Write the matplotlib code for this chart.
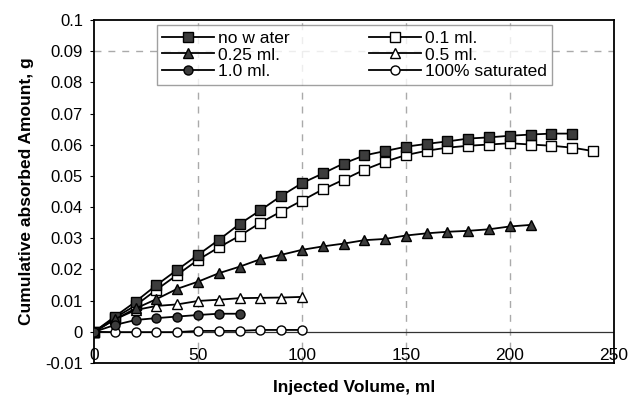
import matplotlib
matplotlib.use("Agg")
import matplotlib.pyplot as plt

plt.rcParams['font.family'] = ['Liberation Sans', 'DejaVu Sans']

x_no_water = [0, 10, 20, 30, 40, 50, 60, 70, 80, 90, 100, 110, 120, 130, 140, 150, 160, 170, 180, 190, 200, 210, 220, 230]
y_no_water = [0, 0.0049, 0.0097, 0.015, 0.0199, 0.0247, 0.0295, 0.0346, 0.039, 0.0436, 0.0477, 0.0508, 0.054, 0.0566,
              0.058, 0.0594, 0.0603, 0.0611, 0.062, 0.0624, 0.0629, 0.0633, 0.0636, 0.0636]

x_01 = [0, 10, 20, 30, 40, 50, 60, 70, 80, 90, 100, 110, 120, 130, 140, 150, 160, 170, 180, 190, 200, 210, 220, 230, 240]
y_01 = [0, 0.0045, 0.0085, 0.0135, 0.0183, 0.0231, 0.0271, 0.0308, 0.035, 0.0386, 0.0421, 0.0457, 0.0488, 0.052,
        0.0546, 0.0567, 0.0581, 0.0591, 0.0597, 0.0601, 0.0605, 0.0601, 0.0597, 0.0591, 0.058]

x_025 = [0, 10, 20, 30, 40, 50, 60, 70, 80, 90, 100, 110, 120, 130, 140, 150, 160, 170, 180, 190, 200, 210]
y_025 = [0, 0.004, 0.0075, 0.0105, 0.0138, 0.0161, 0.0188, 0.0209, 0.0233, 0.0247, 0.0263, 0.0274, 0.0283, 0.0294,
         0.0298, 0.0309, 0.0316, 0.0321, 0.0324, 0.0329, 0.0338, 0.0343]

x_05 = [0, 10, 20, 30, 40, 50, 60, 70, 80, 90, 100]
y_05 = [0, 0.004, 0.007, 0.0083, 0.0088, 0.0099, 0.0103, 0.0108, 0.0109, 0.011, 0.0112]

x_10 = [0, 10, 20, 30, 40, 50, 60, 70]
y_10 = [0, 0.0022, 0.0038, 0.0044, 0.0049, 0.0054, 0.0058, 0.0058]

x_sat = [0, 10, 20, 30, 40, 50, 60, 70, 80, 90, 100]
y_sat = [0, -0.0001, -0.0001, -0.0001, -0.0001, 0.0003, 0.0003, 0.0003, 0.0006, 0.0006, 0.0006]

labels = ["no w ater", "0.1 ml.", "0.25 ml.", "0.5 ml.", "1.0 ml.", "100% saturated"]

x_ticks = [0, 50, 100, 150, 200, 250]
y_ticks = [-0.01, 0, 0.01, 0.02, 0.03, 0.04, 0.05, 0.06, 0.07, 0.08, 0.09, 0.1]
y_tick_labels = ["-0.01", "0", "0.01", "0.02", "0.03", "0.04", "0.05", "0.06", "0.07", "0.08", "0.09", "0.1"]

fig = plt.figure(figsize=(6.36, 4.03), dpi=100)
ax = fig.add_axes([0.148, 0.0993, 0.817, 0.8507])

dark = "#3c3c3c"
lw = 1.3
ms = 6.5
h = {}
h['nw'], = ax.plot(x_no_water, y_no_water, '-s', color='black', lw=lw, ms=ms, mfc=dark, mec='black', mew=1.0, zorder=5)
h['01'], = ax.plot(x_01, y_01, '-s', color='black', lw=lw, ms=ms, mfc='white', mec='black', mew=1.0, zorder=4)
h['025'], = ax.plot(x_025, y_025, '-^', color='black', lw=lw, ms=ms + 1, mfc=dark, mec='black', mew=1.0, zorder=5)
h['05'], = ax.plot(x_05, y_05, '-^', color='black', lw=lw, ms=ms + 1, mfc='white', mec='black', mew=1.0, zorder=4)
h['10'], = ax.plot(x_10, y_10, '-o', color='black', lw=lw, ms=ms, mfc=dark, mec='black', mew=1.0, zorder=5)
h['sat'], = ax.plot(x_sat, y_sat, '-o', color='black', lw=lw, ms=ms, mfc='white', mec='black', mew=1.0, zorder=4)

ax.set_xlim(0, 250)
ax.set_ylim(-0.01, 0.1)

ax.axhline(0, color='#333333', lw=0.9, zorder=2)
for xv in x_ticks[1:-1]:
    ax.axvline(xv, color='#aaaaaa', lw=1.0, ls=(0, (5, 5)), zorder=1)
ax.axhline(0.09, color='#aaaaaa', lw=1.0, ls=(0, (5, 5)), zorder=1)

ax.set_xticks(x_ticks)
ax.set_xticklabels([str(v) for v in x_ticks], fontsize=12.5)
ax.tick_params(axis='x', direction='in', length=0, pad=-11)
ax.set_yticks(y_ticks)
ax.set_yticklabels(y_tick_labels, fontsize=12)
ax.tick_params(axis='y', direction='out', length=3, width=0.8, pad=5)

for s in ax.spines.values():
    s.set_linewidth(1.3)
    s.set_color('black')

ax.set_xlabel("Injected Volume, ml", fontsize=12.5, fontweight='bold', labelpad=12)
ax.set_ylabel("Cumulative absorbed Amount, g", fontsize=12.5, fontweight='bold', labelpad=8)

handles = [h['nw'], h['025'], h['10'], h['01'], h['05'], h['sat']]
leg_labels = [labels[0], labels[2], labels[4], labels[1], labels[3], labels[5]]
leg = ax.legend(handles, leg_labels, ncol=2, loc='upper left', bbox_to_anchor=(0.121, 0.985),
                fontsize=12.5, frameon=True, fancybox=False, shadow=False, borderpad=0.3,
                labelspacing=0.1, handlelength=3.0, handletextpad=0.2, columnspacing=4.6,
                borderaxespad=0)
leg.get_frame().set_edgecolor('#888888')
leg.get_frame().set_linewidth(1.0)

fig.savefig("out.png", dpi=100)
